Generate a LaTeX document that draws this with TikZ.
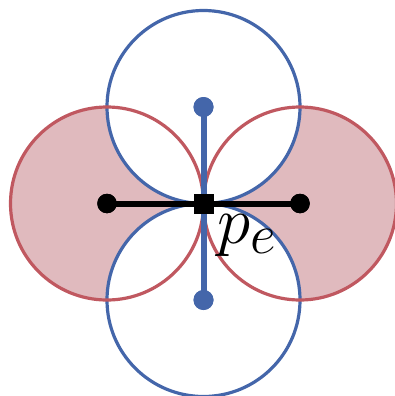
\documentclass[tikz,border=0pt]{standalone}
\usepackage{graphicx}
\definecolor{cred}{RGB}{192,88,96}
\definecolor{cfill}{RGB}{224,186,190}
\definecolor{cblue}{RGB}{68,102,170}
\tikzset{
  redcirc/.style={draw=cred,line width=3.2pt},
  bluecirc/.style={draw=cblue,line width=3.2pt},
  bdot/.style={circle,fill=black,inner sep=0pt,minimum size=19.5pt},
  udot/.style={circle,fill=cblue,inner sep=0pt,minimum size=20pt},
  sqnode/.style={rectangle,fill=black,inner sep=0pt,minimum size=20pt},
}
\begin{document}
\begin{tikzpicture}[x=1pt,y=-1pt]
\useasboundingbox (0,0) rectangle (394,396);
\coordinate (cl) at (107,203.5);
\coordinate (cr) at (300,203.5);
\coordinate (ct) at (203.5,107);
\coordinate (cb) at (203.5,300);
% red fills
\fill[cfill] (cl) circle[radius=96.5pt];
\fill[cfill] (cr) circle[radius=96.5pt];
% blue circles white
\fill[white] (ct) circle[radius=96.5pt];
\fill[white] (cb) circle[radius=96.5pt];
\draw[bluecirc] (ct) circle[radius=96.5pt];
\draw[bluecirc] (cb) circle[radius=96.5pt];
\draw[redcirc] (cl) circle[radius=96.5pt];
\draw[redcirc] (cr) circle[radius=96.5pt];
% nodes
\node[bdot] (L) at (cl) {};
\node[bdot] (R) at (cr) {};
\node[udot] (T) at (ct) {};
\node[udot] (B) at (cb) {};
\coordinate (P) at (203.5,203.5);
\draw[cblue,line width=6pt] (T.center) -- (B.center);
\draw[black,line width=6pt] (L.center) -- (R.center);
\node[bdot] at (cl) {};
\node[bdot] at (cr) {};
\node[udot] at (ct) {};
\node[udot] at (cb) {};
\node[sqnode] (S) at (P) {};
\node[anchor=base west,inner sep=0pt] (lab) at (217,243) {\scalebox{2.7}{\Huge$p_e$}};
\end{tikzpicture}
\end{document}
